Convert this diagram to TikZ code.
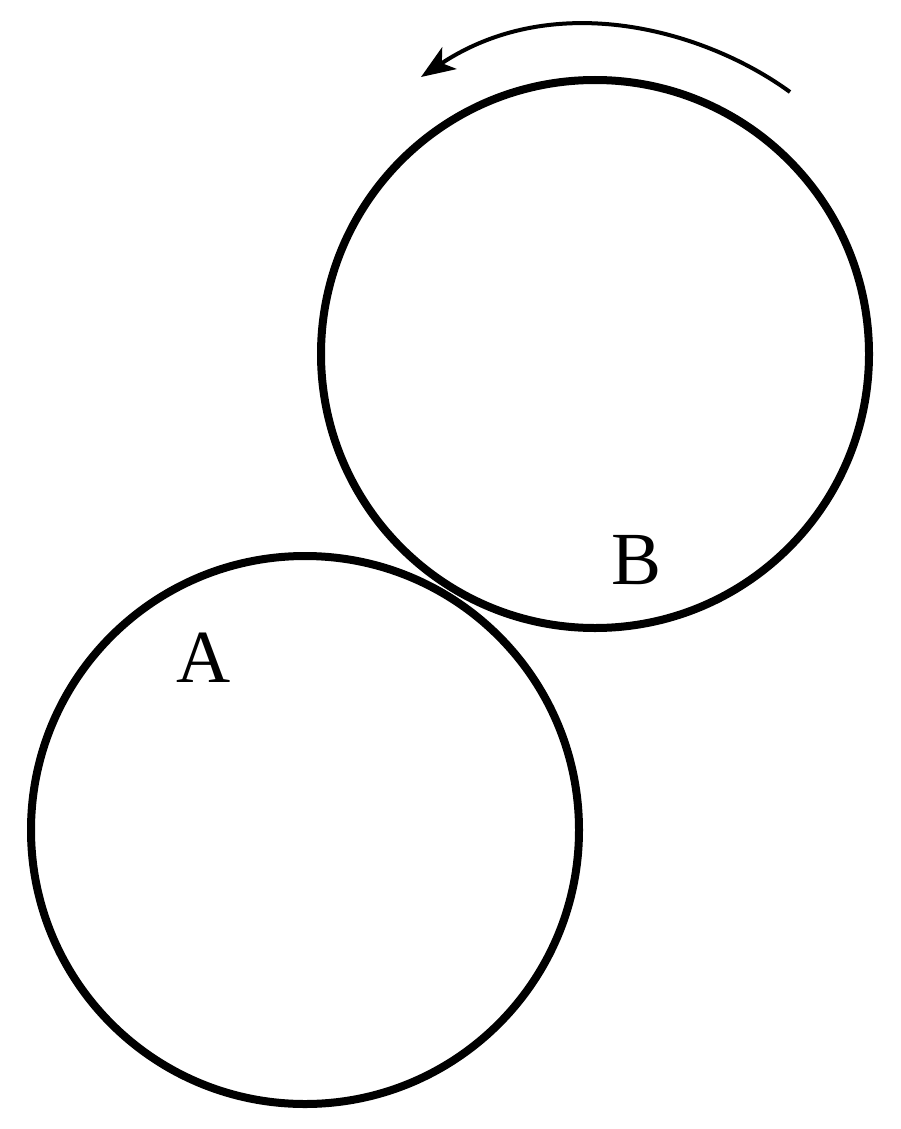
\documentclass[tikz,border=0pt]{standalone}
\usepackage{fontspec}
\setmainfont{Liberation Serif}
\usetikzlibrary{arrows.meta}
\begin{document}
\begin{tikzpicture}[x=1pt,y=-1pt,
  wheel/.style={draw=black,line width=8pt,circle,minimum size=548pt,inner sep=0pt},
  lbl/.style={font=\fontsize{75}{75}\selectfont,inner sep=0pt},
  rot/.style={draw=black,line width=4pt,-{Stealth[length=34pt,width=26pt,inset=9pt]}}]
\useasboundingbox (0,0) rectangle (900,1129);
\node[wheel] (cA) at (305,830) {};
\node[wheel] (cB) at (595,354) {};
\node[lbl] (lA) at (204,658) {A};
\node[lbl] (lB) at (637,560) {B};
\coordinate (s) at (790,92);
\coordinate (e) at (421,77);
\draw[rot] (s) .. controls (705,30) and (555,-12) .. (e);
\end{tikzpicture}
\end{document}
